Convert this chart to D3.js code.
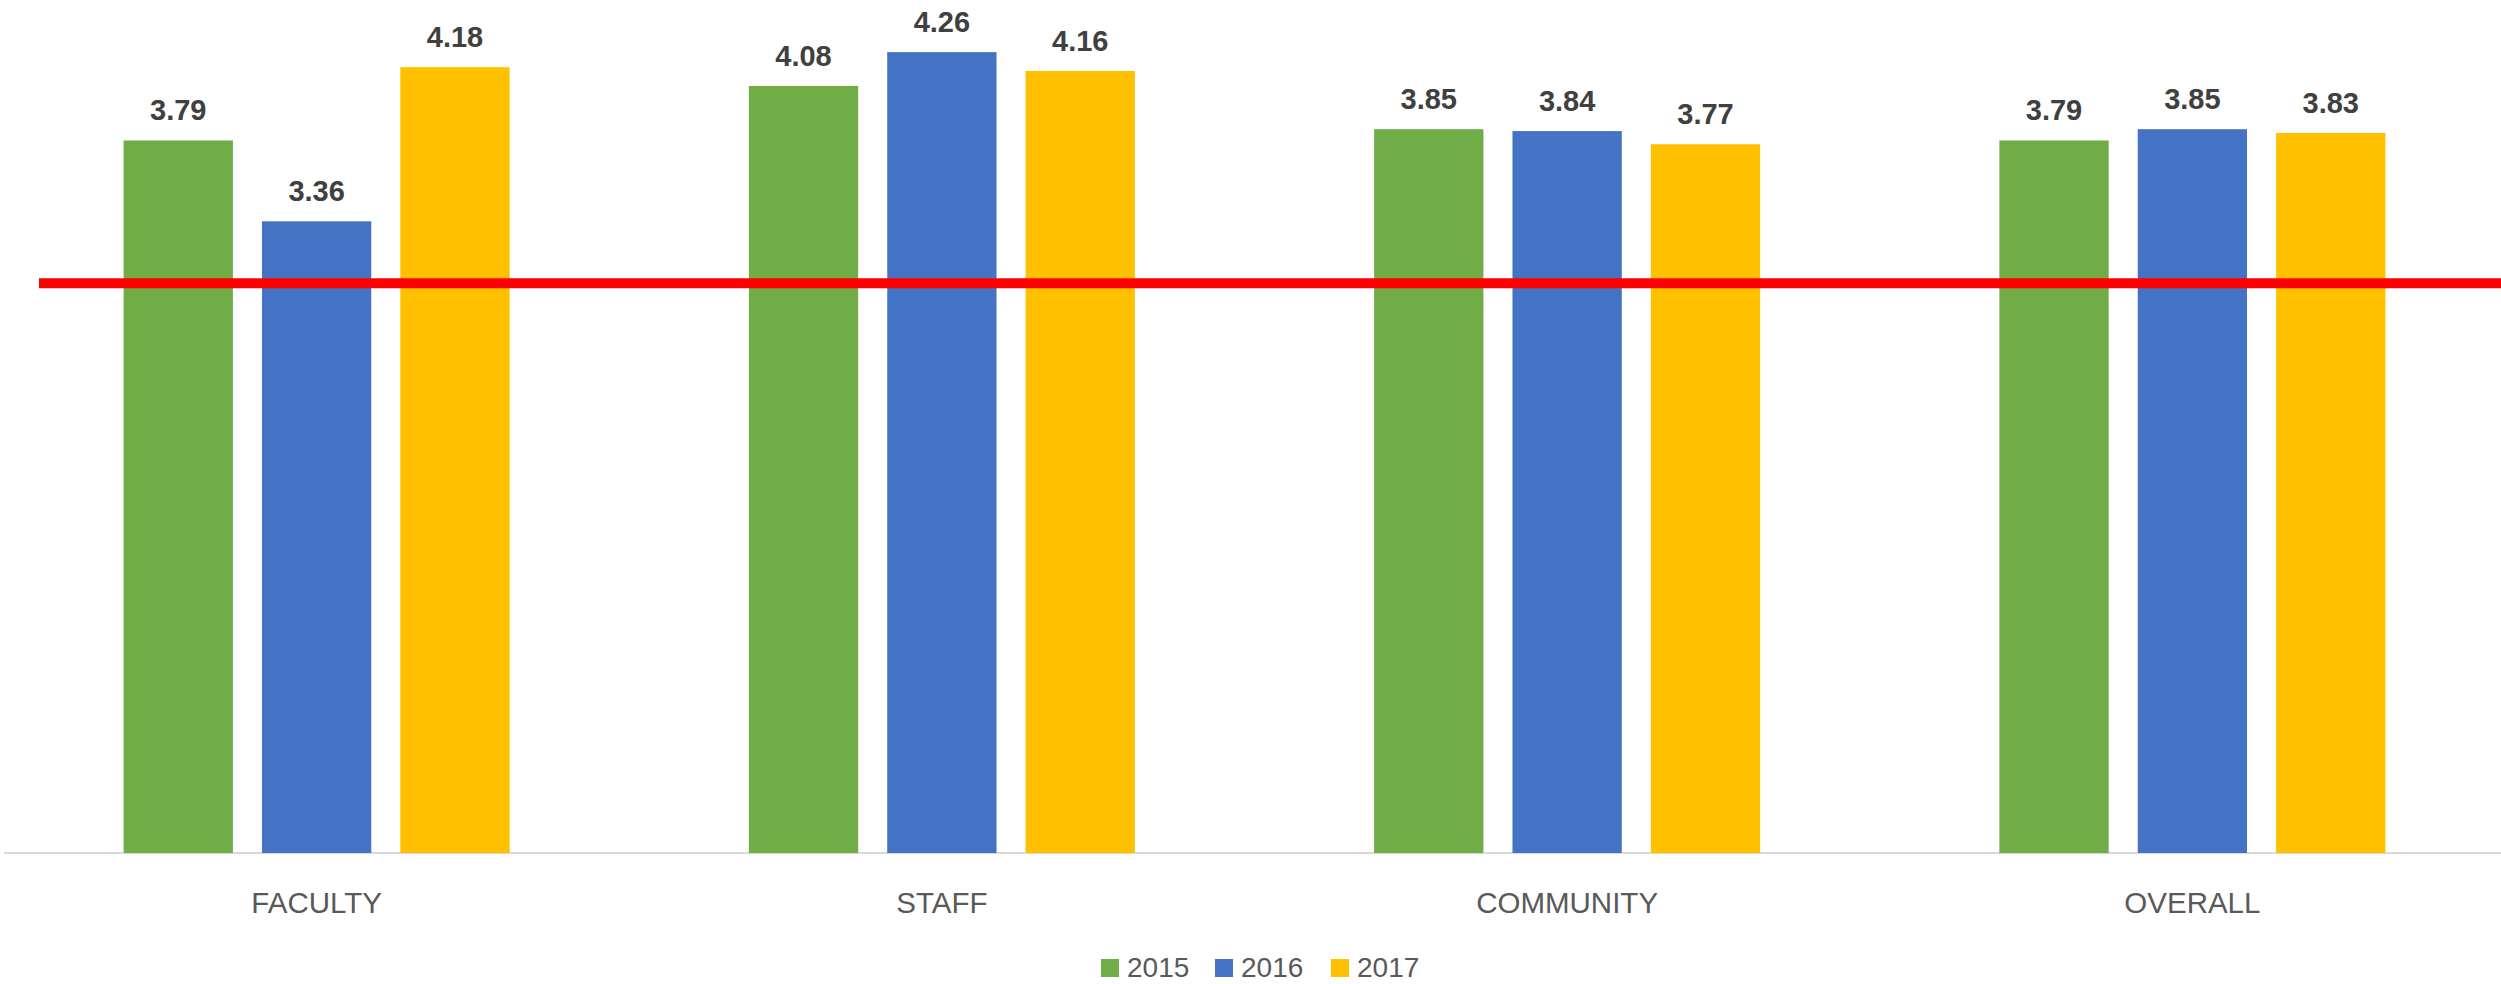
<!DOCTYPE html>
<html>
<head>
<meta charset="utf-8">
<script src="https://cdn.jsdelivr.net/npm/d3@7"></script>
<style>
  html, body { margin: 0; padding: 0; background: #ffffff; }
  svg { display: block; }
</style>
</head>
<body>
<script>
const categories = ["FACULTY", "STAFF", "COMMUNITY", "OVERALL"];
const seriesNames = ["2015", "2016", "2017"];
const values2015 = [3.79, 4.08, 3.85, 3.79];
const values2016 = [3.36, 4.26, 3.84, 3.85];
const values2017 = [4.18, 4.16, 3.77, 3.83];
const targetValue = [3.03];
const colors = ["#70AD47", "#4472C4", "#FFC000"];

const W = 2501, H = 984;
const svg = d3.select("body").append("svg").attr("width", W).attr("height", H);

const plot = { left: 4, right: 2505, top: 7, bottom: 853 };
const y = d3.scaleLinear().domain([0, 4.5]).range([plot.bottom, plot.top]);
const x0 = d3.scaleBand().domain(categories).range([plot.left, plot.right]).padding(0);
const bw = x0.bandwidth();
const x1 = d3.scaleBand().domain(seriesNames)
  .range([bw * 0.1913, bw * 0.8087]).paddingInner(0.21).paddingOuter(0);

const seriesVals = [values2015, values2016, values2017];
const data = [];
categories.forEach((c, i) => {
  seriesNames.forEach((s, j) => data.push({ cat: c, s: s, v: seriesVals[j][i], color: colors[j] }));
});

// axis baseline
svg.append("line")
  .attr("x1", plot.left).attr("x2", W)
  .attr("y1", y(0)).attr("y2", y(0))
  .attr("stroke", "#d9d9d9").attr("stroke-width", 2);

// bars
svg.append("g").selectAll("rect").data(data).join("rect")
  .attr("x", d => x0(d.cat) + x1(d.s))
  .attr("y", d => y(d.v))
  .attr("width", x1.bandwidth())
  .attr("height", d => y(0) - y(d.v))
  .attr("fill", d => d.color);

// data labels
svg.append("g").selectAll("text").data(data).join("text")
  .attr("x", d => x0(d.cat) + x1(d.s) + x1.bandwidth() / 2)
  .attr("y", d => y(d.v) - 20)
  .attr("text-anchor", "middle")
  .attr("font-family", "'Liberation Sans', Arial, sans-serif")
  .attr("font-weight", "bold")
  .attr("font-size", 29)
  .attr("fill", "#404040")
  .text(d => d.v.toFixed(2));

// red target line
svg.append("g").selectAll("line").data(targetValue).join("line")
  .attr("x1", 39).attr("x2", W)
  .attr("y1", d => y(d)).attr("y2", d => y(d))
  .attr("stroke", "#FF0000").attr("stroke-width", 10);

// category labels
svg.append("g").selectAll("text").data(categories).join("text")
  .attr("x", d => x0(d) + bw / 2)
  .attr("y", 913)
  .attr("text-anchor", "middle")
  .attr("font-family", "'Liberation Sans', Arial, sans-serif")
  .attr("font-size", 29.5)
  .attr("fill", "#595959")
  .text(d => d);

// legend
const legendX = [1101, 1215, 1331];
const lg = svg.append("g").selectAll("g").data(seriesNames).join("g")
  .attr("transform", (d, i) => `translate(${legendX[i]},959)`);
lg.append("rect").attr("width", 18).attr("height", 18).attr("fill", (d, i) => colors[i]);
lg.append("text")
  .attr("x", 26).attr("y", 18)
  .attr("font-family", "'Liberation Sans', Arial, sans-serif")
  .attr("font-size", 28)
  .attr("fill", "#595959")
  .text(d => d);
</script>
</body>
</html>
